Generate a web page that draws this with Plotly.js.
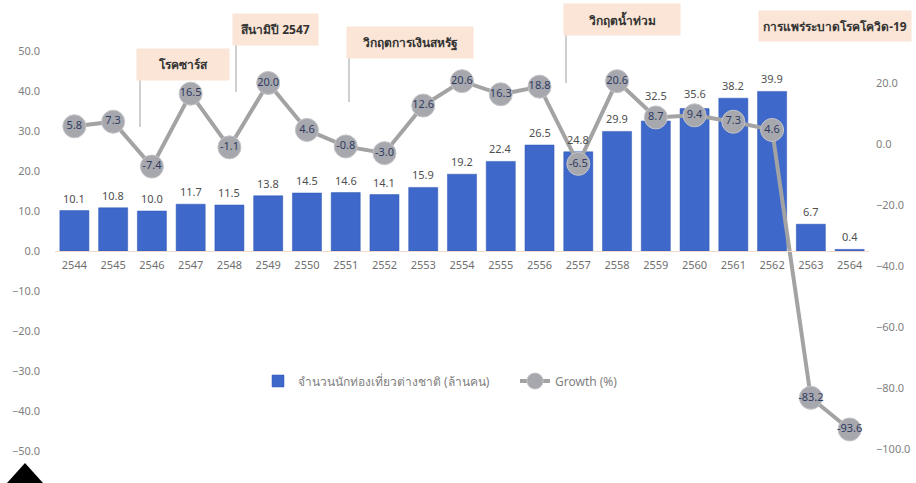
<!DOCTYPE html>
<html>
<head>
<meta charset="utf-8">
<script src="https://cdn.plot.ly/plotly-3.0.1.min.js"></script>
<style>html,body{margin:0;padding:0;background:#fff;}#chart{width:916px;height:483px;}</style>
</head>
<body>
<div id="chart"></div>
<script>
const years = ["2544","2545","2546","2547","2548","2549","2550","2551","2552","2553","2554","2555","2556","2557","2558","2559","2560","2561","2562","2563","2564"];
const tourists = [10.1,10.8,10.0,11.7,11.5,13.8,14.5,14.6,14.1,15.9,19.2,22.4,26.5,24.8,29.9,32.5,35.6,38.2,39.9,6.7,0.4];
const growth = [5.8,7.3,-7.4,16.5,-1.1,20.0,4.6,-0.8,-3.0,12.6,20.6,16.3,18.8,-6.5,20.6,8.7,9.4,7.3,4.6,-83.2,-93.6];
const barName = "จำนวนนักท่องเที่ยวต่างชาติ (ล้านคน)";
const lineName = "Growth (%)";
const events = ["โรคซาร์ส","สึนามิปี 2547","วิกฤตการเงินสหรัฐ","วิกฤตน้ำท่วม","การแพร่ระบาดโรคโควิด-19"];

// layout helpers (pixel -> paper)
const L = 55, R = 869, T = 51, B = 451;
const px = x => (x - L) / (R - L);
const py = y => (B - y) / (B - T);

const FONT = "Noto Sans, Open Sans, sans-serif";
const Y1 = [-50, 50], Y2 = [-100.66, 30.49];
const MARKER = 23;

// pixel helpers from axis ranges (for label collision avoidance)
const y1pix = v => B - (v - Y1[0]) / (Y1[1] - Y1[0]) * (B - T);
const y2pix = v => B - (v - Y2[0]) / (Y2[1] - Y2[0]) * (B - T);

const bars = {
  type: "bar", x: years, y: tourists, name: barName,
  marker: {color: "#3e68c9", line: {color: "#2f56b5", width: 0.5}},
  legend: "legend", hoverinfo: "x+y"
};
const line = {
  type: "scatter", mode: "lines+markers+text", x: years, y: growth, yaxis: "y2", name: lineName,
  line: {color: "#a3a3a3", width: 4},
  marker: {size: MARKER, color: "#a7a8ad", line: {color: "#c4c4c8", width: 1}},
  text: growth.map(v => v.toFixed(1)), textposition: "middle center",
  textfont: {size: 11, color: "#2f3b63", family: FONT},
  cliponaxis: false, legend: "legend2"
};

const boxes = [
  {cx:183, cy:64.5, w:90, h:29},
  {cx:275, cy:29.5, w:83, h:29},
  {cx:410, cy:42, w:124, h:29},
  {cx:622, cy:19.5, w:114, h:29},
  {cx:835, cy:26, w:150, h:28}
];
const leaders = [[140,79,127],[236,44,92],[349,57,102],[566,34,83]];

const annotations = events.map((t,i) => ({
  xref:"paper", yref:"paper", x:px(boxes[i].cx), y:py(boxes[i].cy),
  xanchor:"center", yanchor:"middle", showarrow:false,
  text:"<b>"+t+"</b>", width:boxes[i].w, height:boxes[i].h,
  bgcolor:"#fbe5d6", font:{size:12, color:"#333333", family:FONT}
}));

// bar value labels (category index on x), lifted above the growth marker when they would collide
tourists.forEach((v, i) => {
  const top = y1pix(v);
  const labelCenter = top - 11;
  const m = y2pix(growth[i]);
  let shift = 3;
  if (Math.abs(labelCenter - m) < 18) shift = (top - (m - MARKER/2)) + 1;
  annotations.push({
    xref:"x", yref:"y", x:i, y:v, yanchor:"bottom", xanchor:"center",
    yshift:shift, showarrow:false, text:v.toFixed(1),
    font:{size:11, color:"#505050", family:FONT}
  });
});

const shapes = leaders.map(l => ({
  type:"line", xref:"paper", yref:"paper",
  x0:px(l[0]), x1:px(l[0]), y0:py(l[1]), y1:py(l[2]),
  line:{color:"#a0a0a0", width:1}
}));
shapes.push({
  type:"path", xref:"paper", yref:"paper", fillcolor:"#000", line:{width:0},
  path:`M ${px(7)} ${py(483)} L ${px(25)} ${py(463)} L ${px(43)} ${py(483)} Z`
});

const layout = {
  width:916, height:483,
  margin:{l:L, r:916-R, t:T, b:483-B, pad:0},
  paper_bgcolor:"#fff", plot_bgcolor:"#fff",
  font:{family:FONT, color:"#7f7f7f", size:11},
  bargap:0.25, showlegend:true,
  xaxis:{type:"category", range:[-0.5, years.length - 0.5], autorange:false,
    anchor:"free", position:0.5, showgrid:false, zeroline:false,
    showline:true, linecolor:"#f3d9c9", linewidth:1, ticks:"", tickfont:{size:11, color:"#6f6f6f"},
    ticklabelstandoff:4, fixedrange:true},
  yaxis:{range:Y1, autorange:false, dtick:10, tickformat:".1f", showgrid:false, zeroline:false, showline:false,
    ticks:"", tickfont:{size:11, color:"#7f7f7f"}, ticklabelstandoff:14},
  yaxis2:{overlaying:"y", side:"right", range:Y2, autorange:false, tickvals:[20,0,-20,-40,-60,-80,-100],
    tickformat:".1f", showgrid:false, zeroline:false, showline:false, ticks:"",
    tickfont:{size:11, color:"#7f7f7f"}, ticklabelstandoff:6},
  legend:{orientation:"h", x:px(258), y:py(381), xanchor:"left", yanchor:"middle",
    font:{size:12, color:"#7f7f7f", family:FONT}, bgcolor:"rgba(0,0,0,0)"},
  legend2:{orientation:"h", x:px(515), y:py(381), xanchor:"left", yanchor:"middle",
    font:{size:12, color:"#7f7f7f", family:FONT}, bgcolor:"rgba(0,0,0,0)"},
  annotations, shapes
};

Plotly.newPlot("chart", [bars, line], layout, {displayModeBar:false, staticPlot:true});
</script>
</body>
</html>
